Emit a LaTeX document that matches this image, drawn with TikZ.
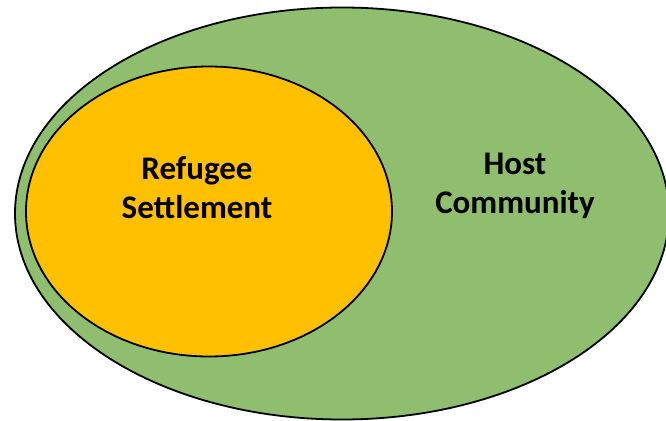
\documentclass[tikz,border=0pt]{standalone}
\usepackage{fontspec}
\setmainfont{Carlito}
\usetikzlibrary{shapes.geometric}
\definecolor{hostgreen}{HTML}{8FBE6F}
\definecolor{refgold}{HTML}{FFC000}
\tikzset{
  region/.style={ellipse, draw=black, line width=1.8pt, inner sep=0pt},
  lbl/.style={font=\bfseries\fontsize{33}{39}\selectfont, align=center, text=black}
}
\begin{document}
\begin{tikzpicture}[x=1pt,y=-1pt]
\useasboundingbox (0,0) rectangle (666,420);
\begin{scope}
\clip (0,0) rectangle (666,420);
\node[region, fill=hostgreen, minimum width=654pt, minimum height=412pt] (host) at (342,213.5) {};
\node[region, fill=refgold, minimum width=366pt, minimum height=290pt] (ref) at (209,211.5) {};
\end{scope}
\node[lbl] (reflbl) at (197,188) {Refugee\\Settlement};
\node[lbl] (hostlbl) at (515,186) {Host\\Community};
\end{tikzpicture}
\end{document}
